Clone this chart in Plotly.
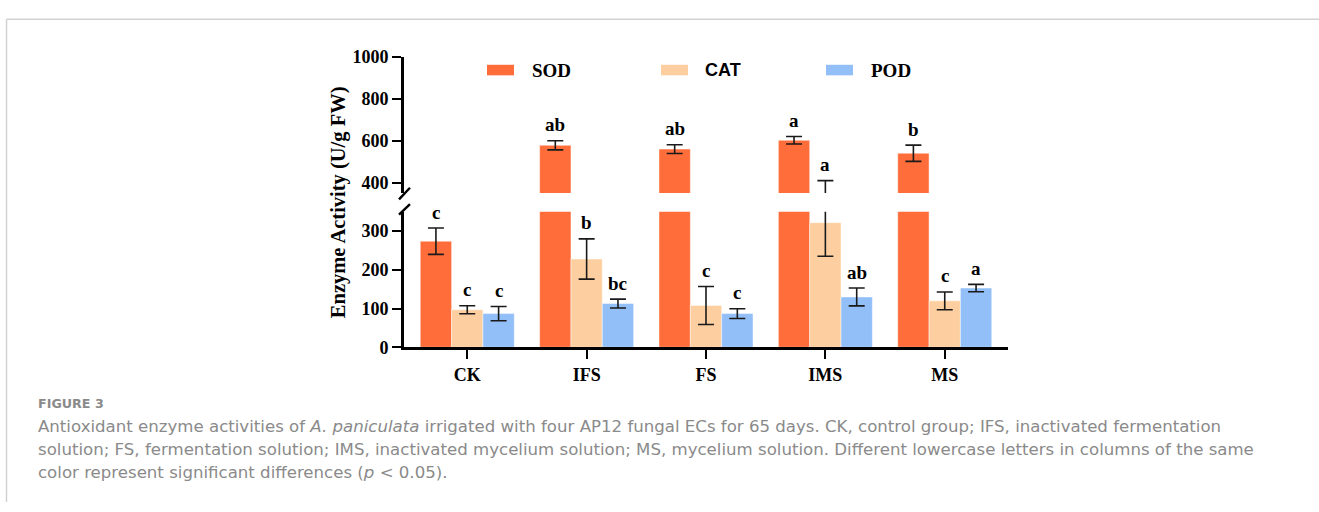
import plotly.graph_objects as go

# ---------------- data ----------------
categories = ["CK", "IFS", "FS", "IMS", "MS"]
series_names = ["SOD", "CAT", "POD"]
sod = [274, 578, 560, 602, 540]
sod_err = [34, 22, 21, 18, 39]
cat = [97, 228, 108, 322, 120]
cat_err = [10.5, 52, 49, 87, 23]
pod = [87, 113, 87, 130, 153]
pod_err = [18.5, 11.5, 12.5, 23, 9.5]
sod_sig = ["c", "ab", "ab", "a", "b"]
cat_sig = ["c", "b", "c", "a", "c"]
pod_sig = ["c", "bc", "c", "ab", "a"]
lower_ticks = [0, 100, 200, 300]
upper_ticks = [400, 600, 800, 1000]
break_low, break_high, y_max = 350, 350, 1000

# ---------------- style ----------------
W, H = 1319, 512
colors = ["#FF6D3B", "#FDCFA0", "#92BFF8"]
SERIF = "Liberation Serif, Times New Roman, serif"
SANS = "Liberation Sans, Arial, sans-serif"
CAP_FONT = "DejaVu Sans, Open Sans, sans-serif"
GREY = "#8a8a8a"


def px(x):
    return x / W


def py(y):
    return 1 - y / H


bargap = 0.2125
barw = (1 - bargap) / 3
xs = list(range(len(categories)))

fig = go.Figure()
values = [sod, cat, pod]
errors = [sod_err, cat_err, pod_err]
sigs = [sod_sig, cat_sig, pod_sig]

for yref in ["y", "y2"]:
    for k, name in enumerate(series_names):
        fig.add_trace(go.Bar(
            x=xs, y=values[k], name=name, yaxis=yref, xaxis="x",
            marker=dict(color=colors[k], line=dict(color="rgba(255,255,255,0.45)", width=1)),
            error_y=dict(type="data", array=errors[k], color="#1a1a1a",
                         thickness=1.6, width=8),
            showlegend=False, hoverinfo="skip",
        ))

axis_common = dict(showgrid=False, zeroline=False, showline=True, linecolor="black",
                   linewidth=2.6, ticks="outside", ticklen=9, tickwidth=2.2,
                   tickcolor="black",
                   tickfont=dict(family=SERIF, size=18, color="black", weight="bold"))

fig.update_layout(
    width=W, height=H,
    margin=dict(l=0, r=0, t=0, b=0),
    paper_bgcolor="white", plot_bgcolor="rgba(0,0,0,0)",
    barmode="group", bargap=bargap, bargroupgap=0,
    xaxis=dict(domain=[px(404), px(1008)], range=[-0.53, 4.53],
               tickvals=xs, ticktext=categories, anchor="y", **axis_common),
    yaxis=dict(domain=[py(351), py(210)], range=[0, break_low],
               tickvals=lower_ticks, anchor="x", **axis_common),
    yaxis2=dict(domain=[py(190.4), py(49)], range=[break_high, y_max],
                tickvals=upper_ticks, anchor="x", **axis_common),
    showlegend=False,
)

annotations = []
# significance letters
for k in range(3):
    for i in xs:
        top = values[k][i] + errors[k][i]
        ref = "y2" if top > break_low else "y"
        annotations.append(dict(
            x=i + (k - 1) * barw, y=top, xref="x", yref=ref,
            text=sigs[k][i], showarrow=False, yanchor="bottom", yshift=3.5,
            font=dict(family=SERIF, size=19, color="black", weight="bold")))

# y-axis title
annotations.append(dict(
    x=px(338), y=py(200), xref="paper", yref="paper",
    xanchor="center", yanchor="middle",
    text="Enzyme Activity (U/g FW)", textangle=-90, showarrow=False,
    font=dict(family=SERIF, size=20.5, color="black", weight="bold")))

# custom legend
legend_swatch_x = [487, 661, 826]
legend_text_x = [530, 703, 869]
legend_fonts = [SERIF, SANS, SERIF]
legend_sizes = [19, 18, 19]
shapes = []
for k, name in enumerate(series_names):
    shapes.append(dict(type="rect", xref="paper", yref="paper",
                       x0=px(legend_swatch_x[k]), x1=px(legend_swatch_x[k] + 27),
                       y0=py(68), y1=py(57), fillcolor=colors[k], line=dict(width=0)))
    annotations.append(dict(
        x=px(legend_text_x[k]), y=py(62.5), xref="paper", yref="paper",
        text=name, showarrow=False, xanchor="left", yanchor="middle",
        font=dict(family=legend_fonts[k], size=legend_sizes[k], color="black", weight="bold")))

# axis break marks
for (y_a, y_b) in [(197, 185), (213, 202)]:
    shapes.append(dict(type="line", xref="paper", yref="paper",
                       x0=px(399), y0=py(y_a), x1=px(410), y1=py(y_b),
                       line=dict(color="black", width=2.4)))

# frame
shapes.append(dict(type="line", xref="paper", yref="paper", x0=px(6.5), y0=py(9.5),
                   x1=1, y1=py(9.5), line=dict(color="#d2d2d2", width=1.5)))
shapes.append(dict(type="line", xref="paper", yref="paper", x0=px(6.5), y0=py(9.5),
                   x1=px(6.5), y1=0, line=dict(color="#d2d2d2", width=1.5)))

# caption
caption_lines = [
    "Antioxidant enzyme activities of <i>A. paniculata</i> irrigated with four AP12 fungal ECs for 65 days. CK, control group; IFS, inactivated fermentation",
    "solution; FS, fermentation solution; IMS, inactivated mycelium solution; MS, mycelium solution. Different lowercase letters in columns of the same",
    "color represent significant differences (<i>p</i> &lt; 0.05).",
]
annotations.append(dict(
    x=px(36), y=py(410), xref="paper", yref="paper", text="FIGURE 3",
    showarrow=False, xanchor="left", yanchor="middle",
    font=dict(family=CAP_FONT, size=12.7, color=GREY, weight="bold")))
for j, line in enumerate(caption_lines):
    annotations.append(dict(
        x=px(36), y=py(433 + 24 * j), xref="paper", yref="paper", text=line,
        showarrow=False, xanchor="left", yanchor="middle",
        font=dict(family=CAP_FONT, size=16.6, color=GREY)))

fig.update_layout(annotations=annotations, shapes=shapes)
fig.write_html("out.html")
